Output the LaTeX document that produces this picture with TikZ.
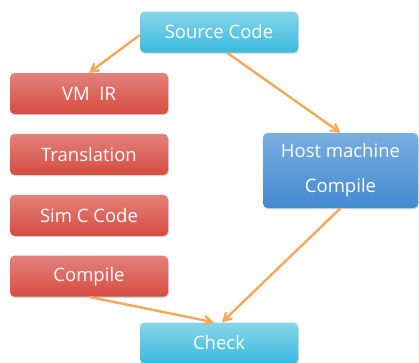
\documentclass[tikz,border=0pt]{standalone}
\usepackage{fontspec}
\setmainfont{Open Sans}
\definecolor{cyan}{RGB}{56, 186, 220}
\definecolor{red}{RGB}{214, 76, 66}
\definecolor{blue}{RGB}{66, 138, 210}
\definecolor{orange}{RGB}{246, 168, 88}
\usetikzlibrary{arrows}
\usetikzlibrary{positioning}
\usetikzlibrary{shadows}
\tikzset{
  box/.style={
    rounded corners=4.5pt, text=white, font=\fontsize{18.5}{35}\selectfont,
    minimum width=158pt, minimum height=41pt, inner sep=0,
    drop shadow={opacity=0.35, shadow xshift=0.8pt, shadow yshift=-1.2pt}
  },
  cyanbox/.style={box, top color=cyan!60!white, bottom color=cyan},
  redbox/.style={box, top color=red!70!white, bottom color=red},
  bluebox/.style={box, top color=blue!70!white, bottom color=blue, align=center,
    minimum width=155pt, minimum height=75pt},
  arrow/.style={->,>=angle 60, draw=orange, line width=2.4pt}
}
\begin{document}
\begin{tikzpicture}[node distance=19.5pt]
  \useasboundingbox (0,0) rectangle (419pt,-362pt);

  \node[cyanbox] (src) at (219pt,-32pt) {Source Code};
  \node[redbox] (vm) at (89pt,-93.5pt) {VM\ \ IR};
  \node[redbox, below=of vm] (trans) {Translation};
  \node[redbox, below=of trans] (simc) {Sim C Code};
  \node[redbox, below=of simc] (cmp) {Compile};
  \node[bluebox] (host) at (340.5pt,-170.5pt) {Host machine\\Compile};
  \node[cyanbox] (chk) at (219pt,-343pt) {Check};

  \draw[arrow] ([yshift=-3pt]src.west) -- (vm.north);
  \draw[arrow] ([xshift=8pt]src.south) -- (host.north);
  \draw[arrow] (cmp.south) -- ([xshift=-5pt]chk.north);
  \draw[arrow] (host.south) -- ([xshift=3pt]chk.north);
\end{tikzpicture}
\end{document}
